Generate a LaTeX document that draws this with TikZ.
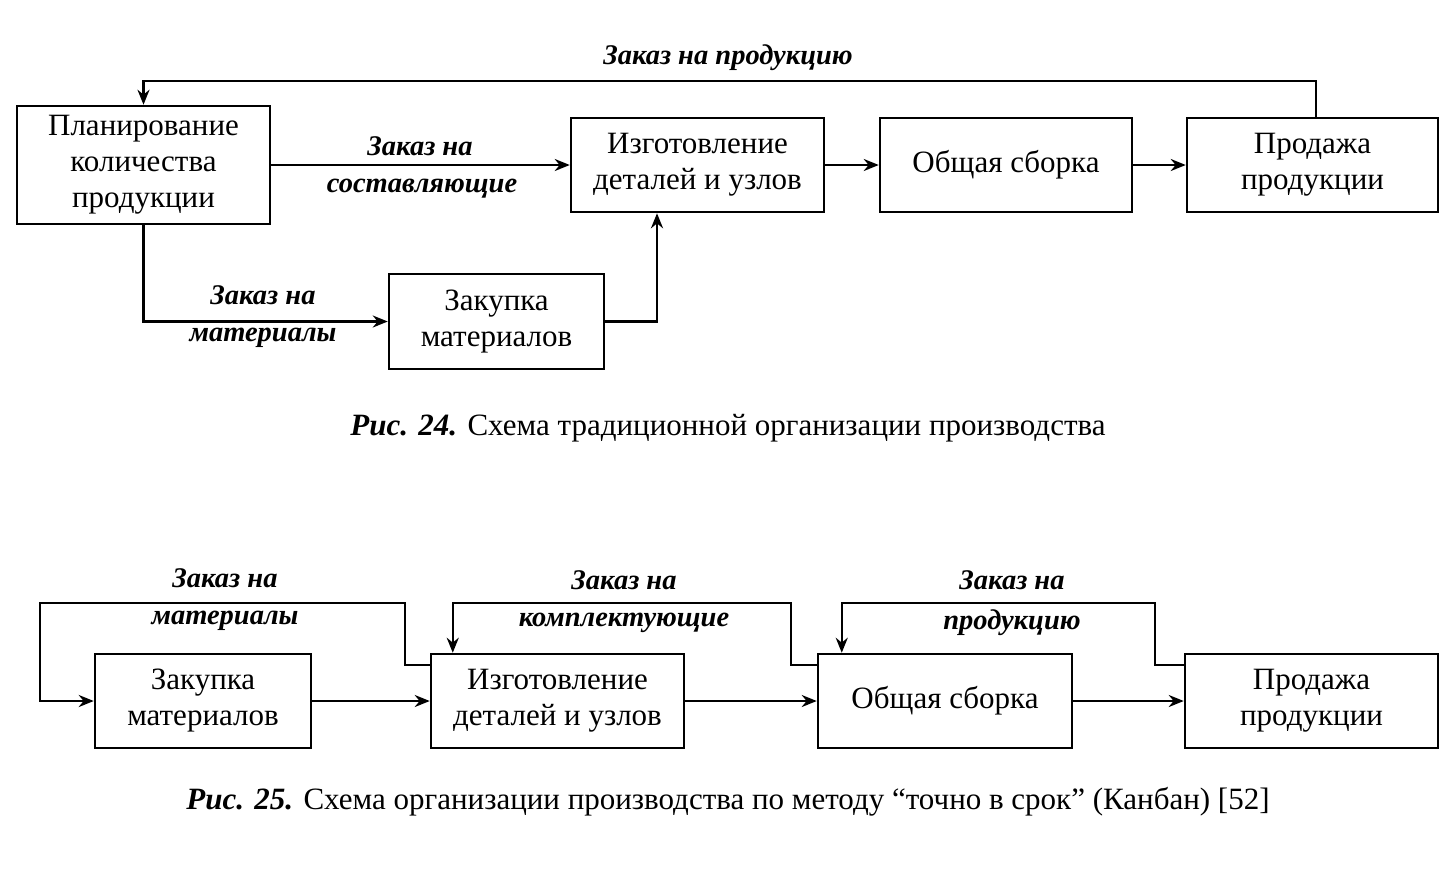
\documentclass[tikz,border=0pt]{standalone}
\usepackage{fontspec}
\setmainfont{Liberation Serif}
\usetikzlibrary{arrows.meta}

\tikzset{
  blok/.style={draw, line width=2.5pt, inner sep=0pt, align=center,
    font=\fontsize{31}{36}\selectfont},
  arr/.style={-{Stealth[length=15pt,width=12pt]}, line width=2.5pt},
  zakaz/.style={font=\fontsize{28.5}{30}\selectfont\bfseries\itshape, inner sep=0pt},
  podpis/.style={font=\fontsize{31}{34}\selectfont, inner sep=0pt}
}

\begin{document}
\begin{tikzpicture}[x=1pt,y=-1pt]
  \useasboundingbox (0,0) rectangle (1450,871);
      % Fig. 24
      \node[blok, minimum width=253pt, minimum height=118pt] (plan) at (143.5,165) {Планирование\\количества\\продукции};
      \node[blok, minimum width=253pt, minimum height=94pt] (izg) at (697.5,165) {Изготовление\\деталей и узлов};
      \node[blok, minimum width=252pt, minimum height=94pt] (sborka) at (1006,165) {Общая сборка};
      \node[blok, minimum width=251pt, minimum height=94pt] (prod) at (1312.5,165) {Продажа\\продукции};
      \node[blok, minimum width=215pt, minimum height=95pt] (zakup) at (496.5,321.5) {Закупка\\материалов};
  \coordinate (verh) at (0,81);
  \coordinate (pod) at (657,0);
      \draw[arr] ([xshift=3.5pt]prod.north) |- (plan.north |- verh) -- (plan.north);
      \draw[arr] (plan) -- (izg);
      \draw[arr] (plan.south) |- (zakup.west);
      \draw[arr] (zakup.east) -| (pod |- izg.south);
      \draw[arr] (izg) -- (sborka);
      \draw[arr] (sborka) -- (prod);
      \node[zakaz] (z1) at (728,58) {Заказ на продукцию};
      \node[zakaz] (z2) at (420,146) {Заказ на};
      \node[zakaz] (z3) at (422,189) {составляющие};
      \node[zakaz] (z4) at (263,295) {Заказ на};
      \node[zakaz] (z5) at (263,338) {материалы};
      \node[podpis] (ris24) at (728,428) {\textbf{\textit{Рис. 24.}} Схема традиционной организации производства};
%%%%%%%%%%%%%%%%%%%%%%%%%%%%%%%%%%%%%%%%%%%%%%%%%%%%%%%%%%%%%%%%%%%%%%%
      % Fig. 25
      \node[blok, minimum width=216pt, minimum height=94pt] (zakup2) at (203,701) {Закупка\\материалов};
      \node[blok, minimum width=253pt, minimum height=94pt] (izg2) at (557.5,701) {Изготовление\\деталей и узлов};
      \node[blok, minimum width=254pt, minimum height=94pt] (sborka2) at (945,701) {Общая сборка};
      \node[blok, minimum width=253pt, minimum height=94pt] (prod2) at (1311.5,701) {Продажа\\продукции};
  \coordinate (k0) at (40,603);
  \coordinate (k1) at (405,603);
  \coordinate (k2) at (791,603);
  \coordinate (k3) at (1155,603);
      \draw[arr] (zakup2) -- (izg2);
      \draw[arr] (izg2) -- (sborka2);
      \draw[arr] (sborka2) -- (prod2);
      \draw[arr] ([yshift=-12pt]izg2.north west) -| (k1) -| (k0 |- zakup2.west) -- (zakup2.west);
      \draw[arr] ([yshift=-12pt]sborka2.north west) -| (k2) -| ([xshift=23pt]izg2.north west);
      \draw[arr] ([yshift=-12pt]prod2.north west) -| (k3) -| ([xshift=25pt]sborka2.north west);
      \node[zakaz] (z6) at (225,578) {Заказ на};
      \node[zakaz] (z7) at (225,621) {материалы};
      \node[zakaz] (z8) at (624,580) {Заказ на};
      \node[zakaz] (z9) at (624,623) {комплектующие};
      \node[zakaz] (z10) at (1012,580) {Заказ на};
      \node[zakaz] (z11) at (1012,623) {продукцию};
      \node[podpis] (ris25) at (728,802) {\textbf{\textit{Рис. 25.}} Схема организации производства по методу “точно в срок” (Канбан) [52]};

\end{tikzpicture}
\end{document}
